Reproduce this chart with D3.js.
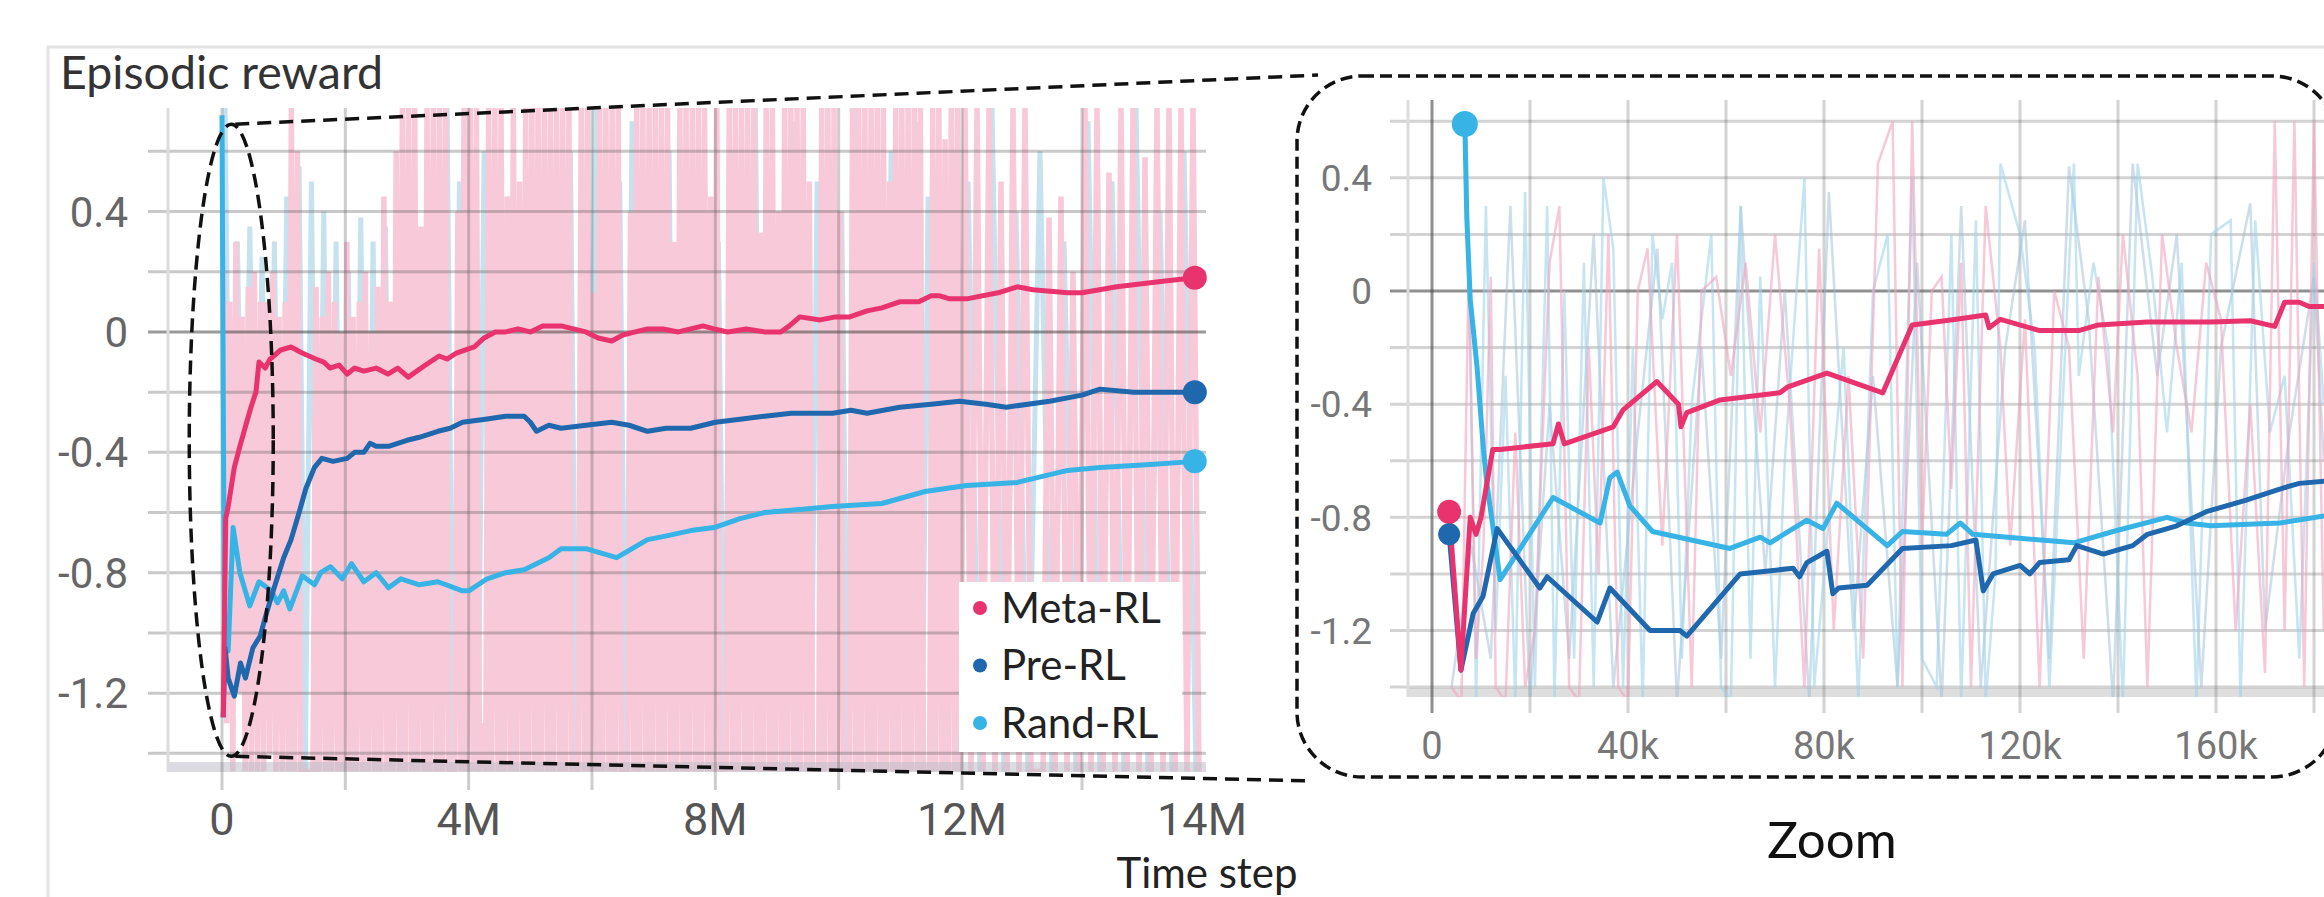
<!DOCTYPE html>
<html><head><meta charset="utf-8">
<script src="https://cdn.jsdelivr.net/npm/d3@7"></script>
<style>
html,body{margin:0;padding:0;background:#fff;}
svg{display:block;}
</style></head>
<body>
<svg id="c" width="2324" height="897"></svg>
<script>
// ================= DATA =================
const seriesNames = ["Meta-RL", "Pre-RL", "Rand-RL"];

// main chart: steps in millions, smoothed episodic reward
const metaMain = [[0.02,-1.28],[0.04,-0.95],[0.06,-0.62],[0.1,-0.58],[0.2,-0.45],[0.29,-0.38],[0.4,-0.3],[0.47,-0.25],[0.55,-0.2],[0.6,-0.1],[0.7,-0.12],[0.78,-0.09],[0.95,-0.06],[1.12,-0.05],[1.3,-0.07],[1.52,-0.09],[1.65,-0.1],[1.75,-0.12],[1.9,-0.11],[2.03,-0.14],[2.15,-0.12],[2.3,-0.13],[2.5,-0.12],[2.69,-0.14],[2.85,-0.12],[3.02,-0.15],[3.3,-0.11],[3.52,-0.08],[3.65,-0.09],[3.8,-0.07],[4.09,-0.05],[4.25,-0.02],[4.43,0.0],[4.6,0.0],[4.8,0.01],[5.0,0.0],[5.2,0.02],[5.5,0.02],[5.7,0.01],[5.9,0.0],[6.1,-0.02],[6.32,-0.03],[6.5,-0.01],[6.7,0.0],[6.9,0.01],[7.15,0.01],[7.4,0.0],[7.6,0.01],[7.8,0.02],[7.98,0.01],[8.2,0.0],[8.5,0.01],[8.8,0.0],[9.06,0.0],[9.2,0.02],[9.37,0.05],[9.7,0.04],[9.95,0.05],[10.18,0.05],[10.46,0.07],[10.7,0.08],[10.99,0.10],[11.3,0.10],[11.5,0.12],[11.64,0.12],[11.8,0.11],[12.04,0.11],[12.3,0.13],[12.46,0.15],[12.59,0.14],[12.88,0.13],[13.0,0.13],[13.29,0.15],[13.5,0.16],[13.71,0.17],[13.94,0.18]];
const preMain = [[0.02,-1.28],[0.05,-1.05],[0.1,-1.15],[0.2,-1.21],[0.3,-1.1],[0.38,-1.15],[0.5,-1.05],[0.62,-1.01],[0.7,-0.95],[0.8,-0.88],[1.0,-0.75],[1.12,-0.69],[1.25,-0.6],[1.36,-0.52],[1.5,-0.45],[1.62,-0.42],[1.8,-0.43],[2.03,-0.42],[2.15,-0.4],[2.3,-0.4],[2.4,-0.37],[2.5,-0.38],[2.7,-0.38],[3.0,-0.36],[3.2,-0.35],[3.5,-0.33],[3.7,-0.32],[3.9,-0.3],[4.27,-0.29],[4.6,-0.28],[4.9,-0.28],[5.0,-0.3],[5.1,-0.33],[5.3,-0.31],[5.5,-0.32],[5.9,-0.31],[6.32,-0.3],[6.6,-0.31],[6.9,-0.33],[7.2,-0.32],[7.6,-0.32],[8.0,-0.3],[8.4,-0.29],[8.8,-0.28],[9.23,-0.27],[9.9,-0.27],[10.2,-0.26],[10.46,-0.27],[10.99,-0.25],[11.5,-0.24],[11.96,-0.23],[12.2,-0.24],[12.37,-0.25],[12.73,-0.23],[13.0,-0.21],[13.15,-0.19],[13.43,-0.2],[13.71,-0.2],[13.94,-0.2]];
const randMain = [[0,0.72],[0.02,-0.2],[0.04,-1.0],[0.1,-1.06],[0.18,-0.65],[0.29,-0.8],[0.45,-0.91],[0.6,-0.83],[0.8,-0.86],[0.9,-0.9],[1.0,-0.86],[1.1,-0.92],[1.3,-0.81],[1.5,-0.84],[1.6,-0.8],[1.76,-0.78],[1.95,-0.82],[2.1,-0.77],[2.3,-0.83],[2.5,-0.8],[2.7,-0.85],[2.9,-0.82],[3.2,-0.84],[3.5,-0.83],[3.9,-0.86],[4.0,-0.86],[4.3,-0.82],[4.6,-0.8],[4.9,-0.79],[5.1,-0.77],[5.3,-0.75],[5.5,-0.72],[5.9,-0.72],[6.4,-0.75],[6.9,-0.69],[7.15,-0.68],[7.6,-0.66],[7.98,-0.65],[8.4,-0.62],[8.8,-0.6],[9.37,-0.59],[9.9,-0.58],[10.7,-0.57],[11.4,-0.53],[12.04,-0.51],[12.46,-0.5],[12.88,-0.46],[13.15,-0.45],[13.57,-0.44],[13.94,-0.43]];

// main chart raw (unsmoothed) reward: per bin high and low
const rawMetaBin = 0.1;   // million steps per bin
const rawMetaPeaks = [
 0.2,0.1,0.3,0.05,0.15,0.2,0.1,0.1,0.2,0.05,
 0.1,0.75,0.6,-1.46,-1.46,0.15,0.05,0.2,0.1,0.0,
 0.3,0.05,0.1,0.2,0.0,0.15,0.45,0.1,0.6,0.75,
 0.75,0.75,0.35,0.75,0.75,0.75,0.75,-1.46,0.4,0.75,
 0.75,0.75,-1.3,0.75,0.75,0.75,0.45,0.75,0.5,0.75,
 0.75,0.75,0.75,0.75,0.75,0.75,0.75,-1.46,0.75,0.75,
 0.13,0.75,0.75,0.75,0.75,-1.46,0.4,0.75,0.75,0.75,
 0.75,0.75,0.75,0.3,0.75,0.75,0.75,0.75,0.75,0.45,
 0.75,-1.46,0.75,0.75,0.75,0.75,0.75,0.33,0.75,0.75,
 0.4,0.75,0.75,0.75,0.75,0.5,-1.46,0.75,0.75,0.75,
 0.4,-1.46,0.75,0.75,0.75,0.75,0.75,0.75,0.5,0.75,
 0.75,0.75,0.75,0.75,-1.46,0.75,0.75,0.64,0.75,0.75,
 0.75,0.75,0.75,0.5,0.75,0.75,-1.46,0.38,0.45,0.2,
 0.75,0.75,0.53,0.75,0.75,0.58,0.75,0.75,0.75,0.75];
const rawMetaTroughs = [
 -1.3,-1.46,-1.2,-1.46,-1.46,-1.46,-1.46,-1.4,-1.46,-1.46,
 -1.46,-1.46,-1.46,-1.46,-1.46,-1.46,-1.46,-1.46,-1.46,-1.46,
 -1.46,-1.46,-1.46,-1.46,-1.46,-1.46,-1.46,-1.46,-1.46,-1.46,
 -1.46,-1.46,-1.46,-1.46,-1.46,-1.46,-1.46,-1.46,-1.46,-1.46,
 -1.46,-1.46,-1.46,-1.46,-1.46,-1.46,-1.46,-1.46,-1.46,-1.46,
 -1.46,-1.46,-1.46,-1.46,-1.46,-1.46,-1.46,-1.46,-1.46,-1.46,
 -1.46,-1.46,-1.46,-1.46,-1.46,-1.46,-1.46,-1.46,-1.46,-1.46,
 -1.46,-1.46,-1.46,-1.46,-1.46,-1.46,-1.46,-1.46,-1.46,-1.46,
 -1.46,-1.46,-1.46,-1.46,-1.46,-1.46,-1.46,-1.46,-1.46,-1.46,
 -1.46,-1.46,-1.46,-1.46,-1.46,-1.46,-1.46,-1.46,-1.46,-1.46,
 -1.46,-1.46,-1.46,-1.46,-1.46,-1.46,-1.46,-1.46,-1.46,-1.46,
 -1.46,-1.46,-1.46,-1.46,-1.46,-1.46,-1.46,-1.46,-1.46,-1.46,
 -1.46,-1.46,-1.46,-1.46,-1.46,-1.46,-1.46,-1.46,-1.46,-1.46,
 -1.46,-1.46,-1.46,-1.46,-1.46,-1.46,-1.46,-1.46,-1.46,-1.46];
const rawRandBin = 0.2;
const rawRandPeaks = [
 0.75,0.3,0.35,0.25,0.3,0.45,0.55,0.5,0.4,0.3,
 0.2,0.38,0.3,0.35,0.2,0.3,0.25,0.2,0.75,0.5,
 0.3,0.6,0.2,0.45,0.3,0.5,0.25,0.4,0.6,0.3,
 0.75,0.35,0.5,0.7,0.4,0.3,0.6,0.2,0.5,0.4,
 0.3,0.6,0.5,0.75,0.35,0.4,0.7,0.3,0.5,0.6,
 0.4,0.75,0.3,0.5,0.6,0.35,0.7,0.45,0.3,0.6,
 0.5,0.75,0.4,0.6,0.3,0.7,0.5,0.75,0.4,0.6];
const rawRandTroughs = [
 -1.2,-1.0,-0.9,-1.1,-1.3,-1.46,-1.46,-1.46,-1.46,-1.46,
 -1.46,-1.46,-1.46,-1.46,-1.46,-1.46,-1.46,-1.46,-1.46,-1.46,
 -1.46,-1.46,-1.46,-1.46,-1.46,-1.46,-1.46,-1.46,-1.46,-1.46,
 -1.46,-1.46,-1.46,-1.46,-1.46,-1.46,-1.46,-1.46,-1.46,-1.46,
 -1.46,-1.46,-1.46,-1.46,-1.46,-1.46,-1.46,-1.46,-1.46,-1.46,
 -1.46,-1.46,-1.46,-1.46,-1.46,-1.46,-1.46,-1.46,-1.46,-1.46,
 -1.46,-1.46,-1.46,-1.46,-1.46,-1.46,-1.46,-1.46,-1.46,-1.46];

// main chart axes
const mainYTicks = [0.4, 0, -0.4, -0.8, -1.2];
const mainYGrid = [0.6, 0.4, 0.2, 0, -0.2, -0.4, -0.6, -0.8, -1.0, -1.2, -1.4];
const mainXTicks = [0, 4, 8, 12, 14];
const mainXTickLabels = ["0", "4M", "8M", "12M", "14M"];
const mainXGrid = [0, 2, 4, 6, 8, 10, 12, 13];

// zoom inset: steps in thousands
const zoomMeta = [[3.5,-0.78],[5.9,-1.34],[7.8,-0.8],[9,-0.86],[10,-0.8],[12.4,-0.56],[13.9,-0.56],[24.7,-0.54],[25.8,-0.47],[27,-0.54],[37,-0.48],[39,-0.42],[45.9,-0.32],[50.3,-0.4],[50.8,-0.48],[52,-0.43],[58.8,-0.385],[71,-0.36],[72.5,-0.34],[80.6,-0.29],[92,-0.36],[98,-0.12],[107,-0.1],[113,-0.085],[113.7,-0.13],[116,-0.1],[124,-0.14],[132,-0.14],[136,-0.12],[146,-0.11],[159,-0.11],[167,-0.105],[172,-0.125],[174,-0.04],[177,-0.04],[179,-0.055],[184,-0.055]];
const zoomPre = [[3.5,-0.86],[5.9,-1.34],[8.4,-1.14],[10.4,-1.08],[13.3,-0.84],[22,-1.05],[23.5,-1.01],[33.7,-1.17],[36.3,-1.05],[44.5,-1.2],[50.6,-1.2],[52,-1.22],[62.9,-1.0],[73.7,-0.98],[75,-1.01],[76.5,-0.96],[80.6,-0.92],[81.8,-1.07],[83,-1.05],[88.8,-1.04],[96,-0.91],[106,-0.9],[111,-0.88],[112.5,-1.06],[114.5,-1.0],[120,-0.97],[122,-1.0],[124,-0.96],[130,-0.95],[131.6,-0.9],[137,-0.93],[143,-0.9],[146,-0.86],[152,-0.83],[158,-0.78],[166,-0.74],[173,-0.7],[177,-0.68],[184,-0.67]];
const zoomRand = [[6.7,0.59],[7.1,0.26],[7.8,-0.03],[9.2,-0.27],[10.5,-0.56],[11.2,-0.68],[13.9,-1.02],[24.7,-0.73],[34.3,-0.82],[36.3,-0.66],[37.8,-0.64],[40.4,-0.76],[45,-0.85],[60.8,-0.91],[67,-0.87],[69,-0.89],[76.5,-0.81],[79.8,-0.84],[82.6,-0.75],[92.9,-0.9],[96,-0.85],[105,-0.86],[107.8,-0.82],[110.4,-0.86],[131,-0.89],[139,-0.85],[150,-0.8],[154,-0.82],[159,-0.83],[173,-0.82],[184,-0.79]];

// zoom inset raw values
const zoomRawMeta = [[4,-1.4],[6,-1.45],[7.5,0.1],[9,-1.3],[10.5,-0.9],[12,0.05],[13,-1.4],[15,-1.45],[17,-0.5],[19,-1.4],[21,-1.2],[24,0.1],[26,0.3],[28,-1.4],[30,-1.45],[32,-0.2],[34,-1.0],[36,0.2],[38,-1.4],[40,-1.45],[42,0.0],[44,0.15],[47,-0.9],[50,0.2],[53,-1.4],[55,0.0],[58,0.05],[61,-0.3],[64,0.1],[67,-0.5],[70,0.2],[73,-0.4],[76,-1.4],[79,0.15],[82,-1.2],[85,-0.3],[88,-1.3],[91,0.45],[94,0.6],[96,-1.4],[98,0.6],[100,-0.9],[102,0.0],[104,0.05],[106,-0.7],[108,0.1],[110,-1.4],[113,0.3],[116,-0.2],[118,-0.9],[121,-0.1],[124,-1.4],[127,0.0],[130,-0.2],[133,-1.3],[136,0.05],[139,-0.5],[141,0.2],[144,-0.3],[146,-1.4],[149,0.2],[152,-0.2],[155,-0.5],[158,0.1],[161,-0.1],[164,-1.2],[167,-0.4],[170,-1.35],[172,0.6],[174,-1.2],[176,0.6],[178,-1.4],[180,0.6],[182,-1.2]];
const zoomRawRand = [[7,0.59],[9,-1.45],[11,0.3],[13,-1.2],[15,-0.3],[17,-1.45],[19,0.35],[21,-1.4],[23.5,0.3],[25,-1.45],[27,0.0],[29,-1.3],[31,0.1],[33,-1.4],[35,0.4],[37,0.15],[39,-1.4],[41,-0.2],[43,-1.45],[45,0.2],[47,-0.1],[49,0.1],[51,-1.3],[53,-0.4],[57,0.2],[59,-1.4],[61,-1.45],[63,0.3],[65,-1.3],[67,0.05],[70,-1.4],[72,-0.6],[76,0.4],[78,-1.4],[81,-0.8],[84,-0.2],[87,-1.45],[90,0.0],[93,0.2],[95,-1.4],[98,0.4],[100,-1.3],[103,-1.4],[106,0.2],[108,-1.45],[111,0.25],[113,-1.45],[115,-1.0],[116,0.45],[120,0.2],[123,-0.2],[126,-1.4],[131,0.45],[132,-0.3],[135,0.1],[138,-0.2],[141,-1.45],[144,0.45],[147,0.05],[150,-0.5],[153,0.1],[156,-1.45],[159,0.2],[163,0.25],[165,-1.45],[168,0.25],[171,-0.5],[174,-0.3],[177,-1.3],[180,0.1],[182,-0.4]];
const zoomRawPre = [[4,-1.4],[8,-0.9],[12,-1.3],[16,0.3],[20,-1.45],[24,-0.4],[28,-1.3],[33,0.2],[37,-1.4],[42,-0.5],[46,0.15],[50,-1.45],[55,-0.2],[59,-1.3],[63,0.3],[68,-1.0],[72,0.0],[77,-1.45],[81,0.35],[86,-1.2],[90,-0.3],[95,-1.4],[99,0.1],[104,-1.45],[108,0.3],[112,-1.4],[117,-0.2],[121,0.25],[126,-1.3],[130,0.44],[134,-0.1],[139,-1.45],[143,0.45],[148,-0.3],[152,0.2],[157,-1.4],[161,-0.2],[167,0.31],[170,-1.2],[175,-0.5],[180,0.05],[182,-0.6]];

// zoom inset axes
const zoomYTicks = [0.4, 0, -0.4, -0.8, -1.2];
const zoomYGrid = [0.6, 0.4, 0.2, 0, -0.2, -0.4, -0.6, -0.8, -1.0, -1.2, -1.4];
const zoomXTicks = [0, 40, 80, 120, 160];
const zoomXTickLabels = ["0", "40k", "80k", "120k", "160k"];
const zoomXGrid = [0, 20, 40, 60, 80, 100, 120, 140, 160, 180];

// ================= STYLE =================
const COL = {meta: "#e8336e", pre: "#1f68ad", rand: "#37b3e6"};
const RAW = {meta: "#f8c9d8", rand: "#c6e2ee"};
const TICKFONT = "Roboto, 'Liberation Sans', Arial, sans-serif";
const TXTFONT = "Lato, 'Open Sans', sans-serif";

const svg = d3.select("#c");
svg.append("rect").attr("width", 2324).attr("height", 897).attr("fill", "#fff");
// outer card frame
svg.append("rect").attr("x", 48).attr("y", 47).attr("width", 2400).attr("height", 900)
  .attr("fill", "none").attr("stroke", "#e3e3e3").attr("stroke-width", 3);

svg.append("text").attr("x", 60).attr("y", 89).text("Episodic reward")
  .attr("font-family", TXTFONT).attr("font-size", 46.5).attr("fill", "#333");

const defs = svg.append("defs");

// ================= MAIN CHART =================
const M = {left: 168, right: 1206, top: 108, bottom: 772};
const xMain = d3.scaleLinear().domain([0, 12, 14]).range([222, 962, 1202]);
const yMain = d3.scaleLinear().domain([-1.462, 0.744]).range([M.bottom, M.top]);

defs.append("clipPath").attr("id", "clipMain").append("rect")
  .attr("x", M.left).attr("y", M.top).attr("width", M.right - M.left).attr("height", M.bottom - M.top);

function zigzag(peaks, troughs, bin) {
  const pts = [];
  peaks.forEach((p, i) => { pts.push([(i + 0.25) * bin, p]); pts.push([(i + 0.75) * bin, troughs[i]]); });
  return pts;
}
const mainLine = d3.line().x(d => xMain(d[0])).y(d => yMain(d[1]));

const gMain = svg.append("g");
const gRaw = gMain.append("g").attr("clip-path", "url(#clipMain)");
gRaw.append("path").attr("d", mainLine(zigzag(rawRandPeaks, rawRandTroughs, rawRandBin)))
  .attr("fill", "none").attr("stroke", RAW.rand).attr("stroke-width", 5);
gRaw.append("path").attr("d", mainLine(zigzag(rawMetaPeaks, rawMetaTroughs, rawMetaBin)))
  .attr("fill", "none").attr("stroke", RAW.meta).attr("stroke-width", 5.5);

// bottom band
gMain.append("rect").attr("x", M.left).attr("y", 762).attr("width", M.right - M.left).attr("height", 10)
  .attr("fill", "rgba(190,190,200,0.55)");
// grid
gMain.selectAll(".hg").data(mainYGrid).join("line")
  .attr("x1", 148).attr("x2", M.right).attr("y1", d => yMain(d)).attr("y2", d => yMain(d))
  .attr("stroke", d => d === 0 ? "rgba(70,70,70,0.55)" : "rgba(90,90,90,0.33)").attr("stroke-width", 3);
gMain.selectAll(".vg").data(mainXGrid).join("line")
  .attr("x1", d => xMain(d)).attr("x2", d => xMain(d)).attr("y1", M.top).attr("y2", 790)
  .attr("stroke", "rgba(90,90,90,0.3)").attr("stroke-width", 3);
gMain.append("line").attr("x1", M.left).attr("x2", M.left).attr("y1", M.top).attr("y2", M.bottom)
  .attr("stroke", "#dcdcdc").attr("stroke-width", 3);

// smoothed lines
const mainSeries = [[randMain, COL.rand], [preMain, COL.pre], [metaMain, COL.meta]];
mainSeries.forEach(([data, c]) => {
  gMain.append("path").attr("d", mainLine(data)).attr("fill", "none").attr("stroke", c)
    .attr("stroke-width", 5).attr("stroke-linejoin", "round").attr("clip-path", "url(#clipMain)");
});
mainSeries.forEach(([data, c]) => {
  const last = data[data.length - 1];
  gMain.append("circle").attr("cx", xMain(last[0])).attr("cy", yMain(last[1])).attr("r", 12).attr("fill", c);
});

// tick labels
gMain.selectAll(".yl").data(mainYTicks).join("text")
  .attr("x", 128).attr("y", d => yMain(d)).attr("dy", "0.36em").attr("text-anchor", "end")
  .text(d => d === 0 ? "0" : d3.format(".1f")(d).replace("−", "-"))
  .attr("font-family", TICKFONT).attr("font-size", 42).attr("fill", "#666");
gMain.selectAll(".xl").data(mainXTicks).join("text")
  .attr("x", d => xMain(d)).attr("y", 835).attr("text-anchor", "middle")
  .text((d, i) => mainXTickLabels[i])
  .attr("font-family", TICKFONT).attr("font-size", 45).attr("fill", "#555");

svg.append("text").attr("x", 1207).attr("y", 888).attr("text-anchor", "middle").text("Time step")
  .attr("font-family", TXTFONT).attr("font-size", 42).attr("fill", "#222");

// legend
const legColors = [COL.meta, COL.pre, COL.rand];
const lg = svg.append("g");
lg.append("rect").attr("x", 959).attr("y", 582).attr("width", 223).attr("height", 170).attr("fill", "#fff");
seriesNames.forEach((n, i) => {
  const cy = 608 + i * 57.5;
  lg.append("circle").attr("cx", 980).attr("cy", cy).attr("r", 7).attr("fill", legColors[i]);
  lg.append("text").attr("x", 1001).attr("y", cy).attr("dy", "0.35em").text(n)
    .attr("font-family", TXTFONT).attr("font-size", 42).attr("fill", "#222");
});

// ================= ZOOM INSET =================
const Z = {left: 1408, right: 2324, top: 100, bottom: 697};
const xZoom = d3.scaleLinear().domain([0, 40]).range([1432, 1628]);
const yZoom = d3.scaleLinear().domain([-1.435, 0.675]).range([Z.bottom, Z.top]);
defs.append("clipPath").attr("id", "clipZoom").append("rect")
  .attr("x", Z.left).attr("y", Z.top).attr("width", Z.right - Z.left).attr("height", Z.bottom - Z.top);
const zLine = d3.line().x(d => xZoom(d[0])).y(d => yZoom(d[1]));
const gZ = svg.append("g");

gZ.append("rect").attr("x", Z.left).attr("y", 688).attr("width", Z.right - Z.left).attr("height", 9)
  .attr("fill", "rgba(200,200,200,0.6)");
gZ.selectAll(".zhg").data(zoomYGrid).join("line")
  .attr("x1", 1390).attr("x2", Z.right).attr("y1", d => yZoom(d)).attr("y2", d => yZoom(d))
  .attr("stroke", d => d === 0 ? "rgba(70,70,70,0.6)" : "rgba(110,110,110,0.3)").attr("stroke-width", 3);
gZ.selectAll(".zvg").data(zoomXGrid).join("line")
  .attr("x1", d => xZoom(d)).attr("x2", d => xZoom(d)).attr("y1", Z.top).attr("y2", 713)
  .attr("stroke", d => d === 0 ? "rgba(70,70,70,0.6)" : "rgba(110,110,110,0.3)").attr("stroke-width", 3);
gZ.append("line").attr("x1", Z.left).attr("x2", Z.left).attr("y1", Z.top).attr("y2", Z.bottom)
  .attr("stroke", "#dcdcdc").attr("stroke-width", 3);

const gZr = gZ.append("g").attr("clip-path", "url(#clipZoom)");
gZr.append("path").attr("d", zLine(zoomRawPre)).attr("fill", "none").attr("stroke", "#9cbdd8")
  .attr("stroke-width", 2.5).attr("opacity", 0.5);
gZr.append("path").attr("d", zLine(zoomRawRand)).attr("fill", "none").attr("stroke", "#9fd4ea")
  .attr("stroke-width", 2.5).attr("opacity", 0.6);
gZr.append("path").attr("d", zLine(zoomRawMeta)).attr("fill", "none").attr("stroke", "#f2a3bd")
  .attr("stroke-width", 2.5).attr("opacity", 0.6);

const zoomSeries = [[zoomRand, COL.rand], [zoomPre, COL.pre], [zoomMeta, COL.meta]];
zoomSeries.forEach(([data, c]) => {
  gZr.append("path").attr("d", zLine(data)).attr("fill", "none").attr("stroke", c)
    .attr("stroke-width", 5).attr("stroke-linejoin", "round");
});
[[zoomRand, COL.rand, 13], [zoomMeta, COL.meta, 12], [zoomPre, COL.pre, 11]].forEach(([data, c, r]) => {
  gZ.append("circle").attr("cx", xZoom(data[0][0])).attr("cy", yZoom(data[0][1])).attr("r", r).attr("fill", c);
});

gZ.selectAll(".zyl").data(zoomYTicks).join("text")
  .attr("x", 1372).attr("y", d => yZoom(d)).attr("dy", "0.36em").attr("text-anchor", "end")
  .text(d => d === 0 ? "0" : d3.format(".1f")(d).replace("−", "-"))
  .attr("font-family", TICKFONT).attr("font-size", 37).attr("fill", "#777");
gZ.selectAll(".zxl").data(zoomXTicks).join("text")
  .attr("x", d => xZoom(d)).attr("y", 759).attr("text-anchor", "middle")
  .text((d, i) => zoomXTickLabels[i])
  .attr("font-family", TICKFONT).attr("font-size", 38).attr("fill", "#777");

svg.append("text").attr("x", 1832).attr("y", 858).attr("text-anchor", "middle").text("Zoom")
  .attr("font-family", TXTFONT).attr("font-size", 51).attr("fill", "#111");

// ================= ANNOTATION (zoom window) =================
const ann = svg.append("g").attr("fill", "none").attr("stroke", "#111").attr("stroke-width", 3.5);
const ex = xMain(0.15), eTop = yMain(0.69), eBot = yMain(-1.41);
ann.append("ellipse").attr("cx", ex).attr("cy", (eTop + eBot) / 2).attr("rx", 42).attr("ry", (eBot - eTop) / 2)
  .attr("stroke-dasharray", "14,7");
ann.append("line").attr("x1", ex + 4).attr("y1", eTop).attr("x2", 1318).attr("y2", 75).attr("stroke-dasharray", "14,8");
ann.append("line").attr("x1", ex + 4).attr("y1", eBot).attr("x2", 1312).attr("y2", 781).attr("stroke-dasharray", "14,8");
ann.append("rect").attr("x", 1297).attr("y", 76).attr("width", 1040).attr("height", 701).attr("rx", 65).attr("ry", 65)
  .attr("stroke-dasharray", "12,6");
</script>
</body></html>
